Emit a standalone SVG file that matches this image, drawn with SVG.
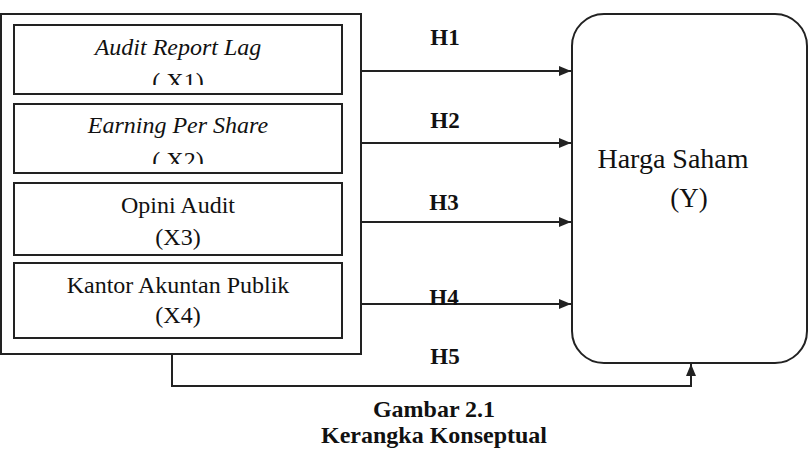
<svg xmlns="http://www.w3.org/2000/svg" width="812" height="450" viewBox="0 0 812 450">
<style>
.box{fill:#fff;stroke:#222;stroke-width:2}
.t{font-family:'Times New Roman','Liberation Serif','DejaVu Serif',serif;font-size:24px;font-weight:normal;fill:#111;text-anchor:middle}
.i{font-style:italic}
.h{font-family:'Times New Roman','Liberation Serif','DejaVu Serif',serif;font-size:23px;font-weight:bold;fill:#111;text-anchor:middle}
.cap{font-size:24px}
.c{fill:none;stroke:#222;stroke-width:2}
</style>
<defs>
<marker id="ah" viewBox="0 0 12 10" refX="12" refY="5" markerWidth="12" markerHeight="10" markerUnits="userSpaceOnUse" orient="auto">
<path d="M0,0 L12,5 L0,10 Z" fill="#222"/>
</marker>
<clipPath id="c1"><rect x="14" y="25" width="328" height="60"/></clipPath>
<clipPath id="c2"><rect x="14" y="104" width="328" height="60"/></clipPath>
</defs>
<g id="outer"><rect class="box" x="1" y="14" width="360" height="340"/></g>
<g id="x1"><rect class="box" x="14" y="25" width="328" height="69"/>
<g clip-path="url(#c1)"><text class="t i" x="178" y="55">Audit Report Lag</text><text class="t" x="178" y="89">( X1)</text></g></g>
<g id="x2"><rect class="box" x="14" y="104" width="328" height="69"/>
<g clip-path="url(#c2)"><text class="t i" x="178" y="133">Earning Per Share</text><text class="t" x="178" y="168">( X2)</text></g></g>
<g id="x3"><rect class="box" x="14" y="183" width="328" height="72"/>
<text class="t" x="178" y="213">Opini Audit</text><text class="t" x="178" y="245">(X3)</text></g>
<g id="x4"><rect class="box" x="14" y="263" width="328" height="75"/>
<text class="t" x="178" y="293">Kantor Akuntan Publik</text><text class="t" x="178" y="323">(X4)</text></g>
<g id="y"><rect class="box" x="572" y="14" width="235" height="349" rx="32" ry="32"/>
<text class="t" x="673" y="168" style="font-size:28px">Harga Saham</text>
<text class="t" x="689" y="207" style="font-size:27px">(Y)</text></g>
<g id="connectors">
<line class="c" x1="361" y1="71" x2="571" y2="71" marker-end="url(#ah)"/>
<line class="c" x1="361" y1="143" x2="571" y2="143" marker-end="url(#ah)"/>
<line class="c" x1="361" y1="222" x2="571" y2="222" marker-end="url(#ah)"/>
<line class="c" x1="361" y1="304" x2="571" y2="304" marker-end="url(#ah)"/>
<polyline class="c" points="172,354 172,386 691,386 691,364" marker-end="url(#ah)"/>
</g>
<g id="labels">
<text class="h" x="445" y="45">H1</text>
<text class="h" x="445" y="128">H2</text>
<text class="h" x="444" y="210">H3</text>
<text class="h" x="444" y="305">H4</text>
<text class="h" x="445" y="364">H5</text>
</g>
<g id="caption">
<text class="h cap" x="434" y="417">Gambar 2.1</text>
<text class="h cap" x="434" y="443">Kerangka Konseptual</text>
</g>
</svg>
